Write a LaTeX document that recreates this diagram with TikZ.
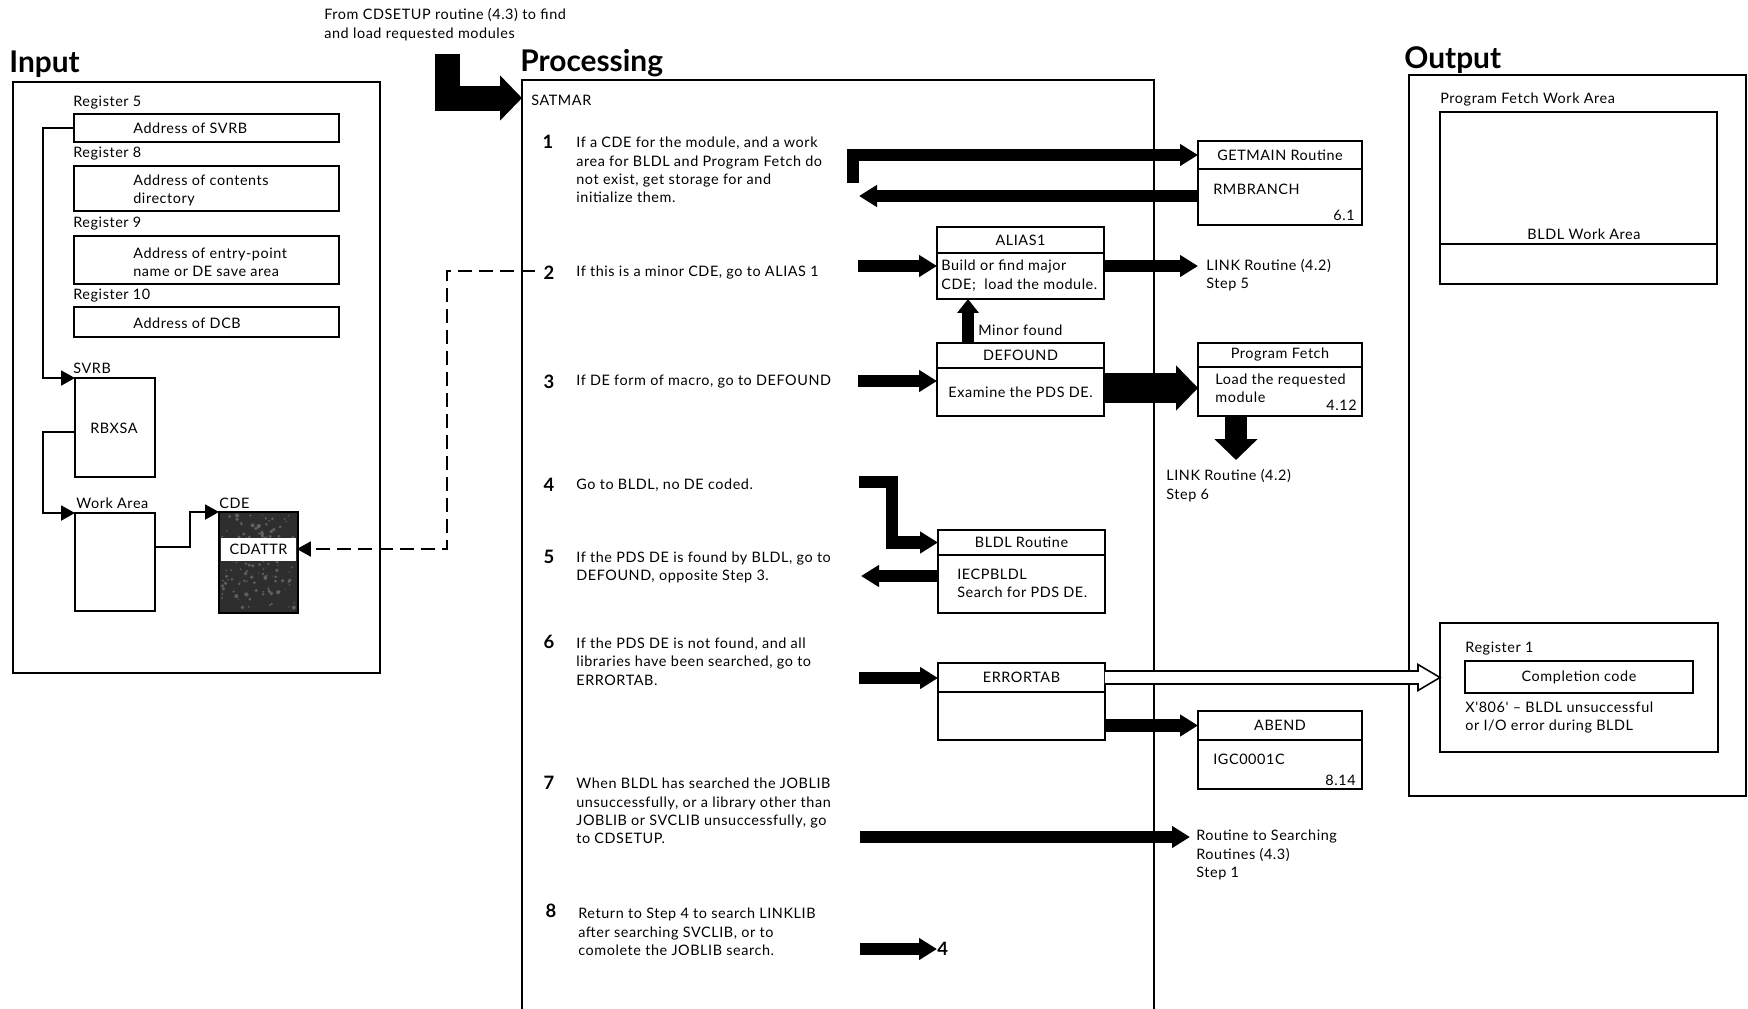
\documentclass[tikz,border=0pt]{standalone}
\usepackage{fontspec}
\setmainfont{Lato}
\newfontfamily\bodyfont{Lato}[LetterSpace=4]
\usetikzlibrary{arrows.meta,positioning}

\newcommand\sm{\bodyfont\fontsize{8.2}{10.5}\selectfont}
\newcommand\stepno{\fontsize{10.5}{12}\selectfont\bfseries}
\newcommand\hdg{\fontsize{17}{20}\selectfont\bfseries}

\begin{document}
\begin{tikzpicture}[x=0.02cm, y=-0.02cm,
  box/.style={draw, line width=1.1pt, inner sep=0pt, outer sep=0pt},
  txt/.style={font=\sm, inner sep=0pt, align=left},
  num/.style={font=\stepno, inner sep=0pt},
  ptr/.style={line width=1.1pt, -{Triangle[length=0.28cm, width=0.3cm]}},
  blk/.style={line width=0.25cm, -{Triangle[length=0.36cm, width=0.42cm]}}]

  \useasboundingbox[fill=white] (0,0) rectangle (1748,1008);

  % headings
  \node[font=\hdg, anchor=west, inner sep=0pt] (tin) at (9,64) {Input};
  \node[font=\hdg, anchor=west, inner sep=0pt] (tproc) at (520,63) {Processing};
  \node[font=\hdg, anchor=west, inner sep=0pt] (tout) at (1404,60) {Output};
  \node[txt, anchor=west] (from) at (324,24.5) {From CDSETUP routine (4.3) to find\\and load requested modules};

  % ---- input ----
  \draw[line width=1.1pt] (13,82) rectangle (380,673);

  \node[txt, anchor=west] at (73,103) {Register 5};
  \node[box, minimum width=5.3cm, minimum height=0.56cm] (r5) at (206.5,128) {};
  \node[txt, anchor=west] at (133,128) {Address of SVRB};
  \node[txt, anchor=west] at (73,154) {Register 8};
  \node[box, minimum width=5.3cm, minimum height=0.9cm] (r8) at (206.5,188.5) {};
  \node[txt, anchor=west] at (133,190.5) {Address of contents\\directory};
  \node[txt, anchor=west] at (73,224) {Register 9};
  \node[box, minimum width=5.3cm, minimum height=0.96cm] (r9) at (206.5,260) {};
  \node[txt, anchor=west] at (133,262.5) {Address of entry-point\\name or DE save area};
  \node[txt, anchor=west] at (73,296) {Register 10};
  \node[box, minimum width=5.3cm, minimum height=0.6cm] (r10) at (206.5,322) {};
  \node[txt, anchor=west] at (133,323) {Address of DCB};

  \node[txt, anchor=west] at (73,368) {SVRB};
  \node[box, minimum width=1.6cm, minimum height=1.98cm] (svrb) at (115,427.5) {};
  \node[txt] at (114,428) {RBXSA};
  \node[txt, anchor=west] at (76,503) {Work Area};
  \node[box, minimum width=1.6cm, minimum height=1.96cm] (work) at (115,562) {};
  \node[txt, anchor=west] at (219,503) {CDE};
  \node[box, fill=black!82, minimum width=1.58cm, minimum height=2.02cm] (cde) at (258.5,562.5) {};
  % mottled print inside the CDE
  \pgfmathsetseed{11}
  \foreach \i in {1,...,140}{
    \pgfmathsetmacro\sx{222+73*rnd}
    \pgfmathsetmacro\sy{515+95*rnd}
    \pgfmathsetmacro\sr{0.3+0.9*rnd}
    \fill[black!55, opacity=0.7] (\sx,\sy) circle (\sr pt);
  }
  \node[fill=white, inner sep=0pt, minimum width=1.52cm, minimum height=0.46cm, font=\sm] (cdattr) at (258.5,549) {CDATTR};

  \coordinate (sv) at (75,432);
  \coordinate (wk) at (155,547);
  \draw[ptr] (r5.west) -- (43,128) |- (svrb.north west);
  \draw[ptr] (sv) -- (43,432) |- (work.north west);
  \draw[ptr] (wk) -- (190,547) |- (cde.north west);

  % ---- processing ----
  \draw[line width=1.1pt] (522,1012) -- (522,80) -- (1154,80) -- (1154,1012);

  \coordinate (src) at (447,54);
  \coordinate (pin) at (522,98);
  \draw[line width=0.5cm, -{Triangle[length=0.44cm, width=0.88cm]}] (src) |- (pin);
  \node[txt, anchor=west] (satmar) at (531,100) {SATMAR};

  \coordinate (d2) at (535,271);
  \draw[ptr, dash pattern=on 0.28cm off 0.14cm] (d2) -- (447,271) |- (cdattr.east);

  \node[num] (n1) at (548,142) {1};
  \node[txt, anchor=west] (s1) at (576,170) {If a CDE for the module, and a work\\area for BLDL and Program Fetch do\\not exist, get storage for and\\initialize them.};
  \node[num] (n2) at (549,273) {2};
  \node[txt, anchor=west] (s2) at (576,273) {If this is a minor CDE, go to ALIAS 1};
  \node[num] (n3) at (549,382) {3};
  \node[txt, anchor=west] (s3) at (576,382) {If DE form of macro, go to DEFOUND};
  \node[num] (n4) at (549,485) {4};
  \node[txt, anchor=west] (s4) at (576,485) {Go to BLDL, no DE coded.};
  \node[num] (n5) at (549,557) {5};
  \node[txt, anchor=west] (s5) at (576,567.5) {If the PDS DE is found by BLDL, go to\\DEFOUND, opposite Step 3.};
  \node[num] (n6) at (549,642) {6};
  \node[txt, anchor=west] (s6) at (576,661.5) {If the PDS DE is not found, and all\\libraries have been searched, go to\\ERRORTAB.};
  \node[num] (n7) at (549,783) {7};
  \node[txt, anchor=west] (s7) at (576,811) {When BLDL has searched the JOBLIB\\unsuccessfully, or a library other than\\JOBLIB or SVCLIB unsuccessfully, go\\to CDSETUP.};
  \node[num] (n8) at (551,911) {8};
  \node[txt, anchor=west] (s8) at (578,932) {Return to Step 4 to search LINKLIB\\after searching SVCLIB, or to\\comolete the JOBLIB search.};

  % routine boxes
  \node[box, minimum width=3.28cm, minimum height=0.56cm, font=\sm] (getmain) at (1280,155) {GETMAIN Routine};
  \node[box, minimum width=3.28cm, minimum height=1.12cm, below=0pt of getmain] (getmainb) {};
  \node[txt, anchor=west] at (1213,189) {RMBRANCH};
  \node[txt, anchor=east] at (1355,215) {6.1};

  \node[box, minimum width=3.34cm, minimum height=0.52cm, font=\sm] (alias1) at (1020.5,240) {ALIAS1};
  \node[box, minimum width=3.34cm, minimum height=0.92cm, below=0pt of alias1] (alias1b) {};
  \node[txt, anchor=west] at (941,275.5) {Build or find major\\CDE;\ \ load the module.};

  \node[box, minimum width=3.34cm, minimum height=0.5cm, font=\sm] (defound) at (1020.5,355.5) {DEFOUND};
  \node[box, minimum width=3.34cm, minimum height=0.96cm, below=0pt of defound, font=\sm] (defoundb) {Examine the PDS DE.};

  \node[box, minimum width=3.28cm, minimum height=0.48cm, font=\sm] (pfetch) at (1280,355) {Program Fetch};
  \node[box, minimum width=3.28cm, minimum height=0.98cm, below=0pt of pfetch] (pfetchb) {};
  \node[txt, anchor=west] at (1215,388.5) {Load the requested\\module};
  \node[txt, anchor=east] at (1357,405) {4.12};

  \node[box, minimum width=3.34cm, minimum height=0.5cm, font=\sm] (bldl) at (1021.5,542.5) {BLDL Routine};
  \node[box, minimum width=3.34cm, minimum height=1.16cm, below=0pt of bldl] (bldlb) {};
  \node[txt, anchor=west] at (957,583.5) {IECPBLDL\\Search for PDS DE.};

  \node[box, minimum width=3.34cm, minimum height=0.58cm, font=\sm] (errtab) at (1021.5,677.5) {ERRORTAB};
  \node[box, minimum width=3.34cm, minimum height=0.96cm, below=0pt of errtab] (errtabb) {};

  \node[box, minimum width=3.28cm, minimum height=0.58cm, font=\sm] (abend) at (1280,725.5) {ABEND};
  \node[box, minimum width=3.28cm, minimum height=0.98cm, below=0pt of abend] (abendb) {};
  \node[txt, anchor=west] at (1213,759) {IGC0001C};
  \node[txt, anchor=east] at (1356,780) {8.14};

  % flow arrows
  \coordinate (a1) at (853,183);
  \coordinate (r1) at (859,196);
  \coordinate (a2) at (858,266);
  \coordinate (lk5) at (1198,266);
  \coordinate (mf) at (968,0);
  \coordinate (a3) at (858,381);
  \coordinate (df) at (0,388);
  \coordinate (lk6) at (1236,460);
  \coordinate (a4) at (859,482);
  \coordinate (r5a) at (861,576);
  \coordinate (a6) at (859,678);
  \coordinate (a7) at (860,837);
  \coordinate (srch) at (1190,837);
  \coordinate (a8) at (860,949);

  \draw[blk] (a1) |- (getmain.west);
  \draw[blk] (getmainb.west |- r1) -- (r1);
  \draw[blk] (a2) -- (a2 -| alias1b.west);
  \draw[blk] (alias1b.east |- lk5) -- (lk5);
  \draw[line width=0.24cm, -{Triangle[length=0.28cm, width=0.42cm]}] (defound.north -| mf) -- (alias1b.south -| mf);
  \draw[blk] (a3) -- (a3 -| defoundb.west);
  \draw[line width=0.6cm, -{Triangle[length=0.44cm, width=0.88cm]}] (defoundb.east |- df) -- (pfetchb.west |- df);
  \draw[line width=0.44cm, -{Triangle[length=0.42cm, width=0.84cm]}] (pfetchb.south -| lk6) -- (lk6);
  \draw[blk] (a4) -- (892,482) |- (bldl.west);
  \draw[blk] (bldlb.west |- r5a) -- (r5a);
  \draw[blk] (a6) -- (a6 -| errtab.west);
  \draw[blk] (errtabb.east |- abend.west) -- (abend.west);
  \draw[blk] (a7) -- (srch);
  \node[num, anchor=west] (go4) at (937,949) {4};
  \draw[blk] (a8) -- (go4.west);

  \node[txt, anchor=west] at (978,330) {Minor found};
  \node[txt, anchor=west] at (1206,275) {LINK Routine (4.2)\\Step 5};
  \node[txt, anchor=west] at (1166,485.5) {LINK Routine (4.2)\\Step 6};
  \node[txt, anchor=west] at (1196,855) {Routine to Searching\\Routines (4.3)\\Step 1};

  % ---- output ----
  \draw[line width=1.1pt] (1409,75) rectangle (1746,796);
  \node[txt, anchor=west] at (1440,100) {Program Fetch Work Area};
  \node[box, minimum width=5.54cm, minimum height=3.44cm] (pfwa) at (1578.5,198) {};
  \draw[line width=1.1pt] (1440,244) -- (1717,244);
  \node[txt] at (1584,234) {BLDL Work Area};

  \node[box, minimum width=5.56cm, minimum height=2.58cm] (reg1) at (1579,687.5) {};
  \node[txt, anchor=west] at (1465,649) {Register 1};
  \node[box, minimum width=4.56cm, minimum height=0.64cm, font=\sm] (ccode) at (1579,677) {Completion code};
  \node[txt, anchor=west] at (1465,717.5) {X'806' – BLDL unsuccessful\\or I/O error during BLDL};

  % open arrow out of ERRORTAB
  \draw[line width=0.9pt, fill=white] (errtab.east) ++(0,-6.5) -- ++(313,0) -- ++(0,-6.5)
    -- ++(22,13) -- ++(-22,13) -- ++(0,-6.5) -- ++(-313,0);
\end{tikzpicture}
\end{document}
